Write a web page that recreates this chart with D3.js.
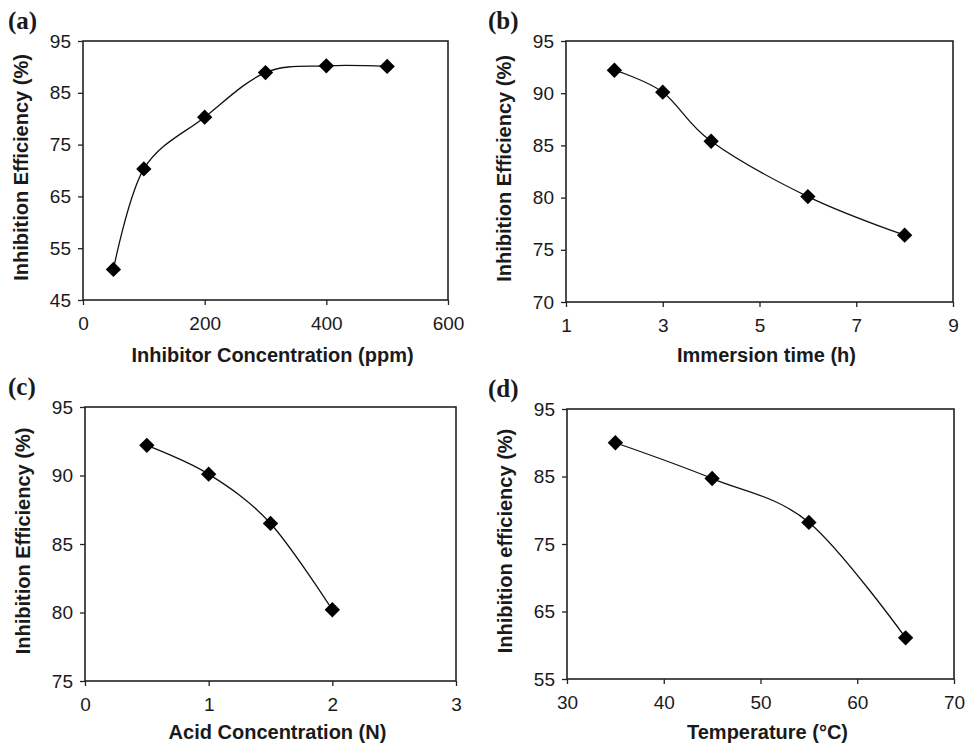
<!DOCTYPE html>
<html lang="en">
<head>
<meta charset="utf-8">
<script src="https://d3js.org/d3.v7.min.js"></script>
<style>
  body { margin: 0; background: #fff; }
  svg text { fill: #1a1a1a; }
  .tick text { font-family: "Liberation Sans", Arial, sans-serif; font-size: 19px; }
  .title { font-family: "Liberation Sans", Arial, sans-serif; font-size: 20px; font-weight: bold; }
  .plabel { font-family: "Liberation Serif", "Times New Roman", serif; font-size: 25px; font-weight: bold; }
</style>
</head>
<body>
<div id="chart"></div>
<script>
// ---- data ----
var concX = [50, 100, 200, 300, 400, 500],
    concIE = [50.9, 70.3, 80.3, 88.9, 90.2, 90.1];
var timeX = [2, 3, 4, 6, 8],
    timeIE = [92.2, 90.1, 85.4, 80.1, 76.4];
var acidX = [0.5, 1, 1.5, 2],
    acidIE = [92.2, 90.1, 86.5, 80.2];
var tempX = [35, 45, 55, 65],
    tempIE = [90.0, 84.7, 78.2, 61.1];

var concXTicks = [0, 200, 400, 600], concYTicks = [45, 55, 65, 75, 85, 95];
var timeXTicks = [1, 3, 5, 7, 9],    timeYTicks = [70, 75, 80, 85, 90, 95];
var acidXTicks = [0, 1, 2, 3],       acidYTicks = [75, 80, 85, 90, 95];
var tempXTicks = [30, 40, 50, 60, 70], tempYTicks = [55, 65, 75, 85, 95];

var panelLabels = ["(a)", "(b)", "(c)", "(d)"];
var xTitles = ["Inhibitor Concentration (ppm)", "Immersion time (h)", "Acid Concentration (N)", "Temperature (\u00B0C)"];
var yTitles = ["Inhibition Efficiency (%)", "Inhibition Efficiency (%)", "Inhibition Efficiency (%)", "Inhibition efficiency (%)"];

// panel frames (pixel boxes) + the data each one carries
var panels = [
  {x: concX, y: concIE, xt: concXTicks, yt: concYTicks, box: {l: 83, r: 448, t: 41, b: 300}, off: [0, 0], titleY: 362},
  {x: timeX, y: timeIE, xt: timeXTicks, yt: timeYTicks, box: {l: 86, r: 473, t: 41, b: 302}, off: [480, 0], titleY: 362},
  {x: acidX, y: acidIE, xt: acidXTicks, yt: acidYTicks, box: {l: 85, r: 456, t: 37, b: 311}, off: [0, 370], titleY: 369},
  {x: tempX, y: tempIE, xt: tempXTicks, yt: tempYTicks, box: {l: 87, r: 474, t: 39, b: 309}, off: [480, 370], titleY: 369}
];

var svg = d3.select("#chart").append("svg")
  .attr("width", 967)
  .attr("height", 743);

panels.forEach(function(p, i) {
  var g = svg.append("g").attr("transform", "translate(" + p.off[0] + "," + p.off[1] + ")");
  var b = p.box;

  var x = d3.scaleLinear().domain(d3.extent(p.xt)).range([b.l, b.r]);
  var y = d3.scaleLinear().domain(d3.extent(p.yt)).range([b.b, b.t]);

  // frame
  g.append("rect")
    .attr("x", b.l).attr("y", b.t)
    .attr("width", b.r - b.l).attr("height", b.b - b.t)
    .attr("fill", "none").attr("stroke", "#222").attr("stroke-width", 1.6);

  var xAxis = g.append("g")
    .attr("transform", "translate(0," + b.b + ")")
    .call(d3.axisBottom(x).tickValues(p.xt).tickSize(5).tickPadding(12).tickFormat(d3.format("")));
  var yAxis = g.append("g")
    .attr("transform", "translate(" + b.l + ",0)")
    .call(d3.axisLeft(y).tickValues(p.yt).tickSize(5).tickPadding(7).tickFormat(d3.format("")));
  [xAxis, yAxis].forEach(function(a) {
    a.select(".domain").remove();
    a.selectAll(".tick line").attr("stroke", "#222").attr("stroke-width", 1.3);
    a.selectAll(".tick text").attr("fill", "#1a1a1a");
  });

  // smoothed line
  var line = d3.line()
    .x(function(d, j) { return x(p.x[j]); })
    .y(function(d) { return y(d); })
    .curve(d3.curveCardinal.tension(0));
  g.append("path")
    .datum(p.y)
    .attr("d", line)
    .attr("fill", "none")
    .attr("stroke", "#111")
    .attr("stroke-width", 1.3);

  // diamond markers
  var diamond = d3.symbol().type(d3.symbolDiamond2).size(150);
  g.selectAll("path.mark")
    .data(p.y)
    .enter().append("path")
    .attr("class", "mark")
    .attr("d", diamond)
    .attr("transform", function(d, j) { return "translate(" + x(p.x[j]) + "," + y(d) + ")"; })
    .attr("fill", "#000");

  // titles
  g.append("text")
    .attr("class", "title")
    .attr("x", (b.l + b.r) / 2 + 7)
    .attr("y", p.titleY)
    .attr("text-anchor", "middle")
    .text(xTitles[i]);
  g.append("text")
    .attr("class", "title")
    .attr("transform", "translate(" + (b.l - 55) + "," + ((b.t + b.b) / 2 - 3) + ")rotate(-90)")
    .attr("text-anchor", "middle")
    .text(yTitles[i]);
  g.append("text")
    .attr("class", "plabel")
    .attr("x", 8)
    .attr("y", b.t - 12)
    .text(panelLabels[i]);
});
</script>
</body>
</html>
